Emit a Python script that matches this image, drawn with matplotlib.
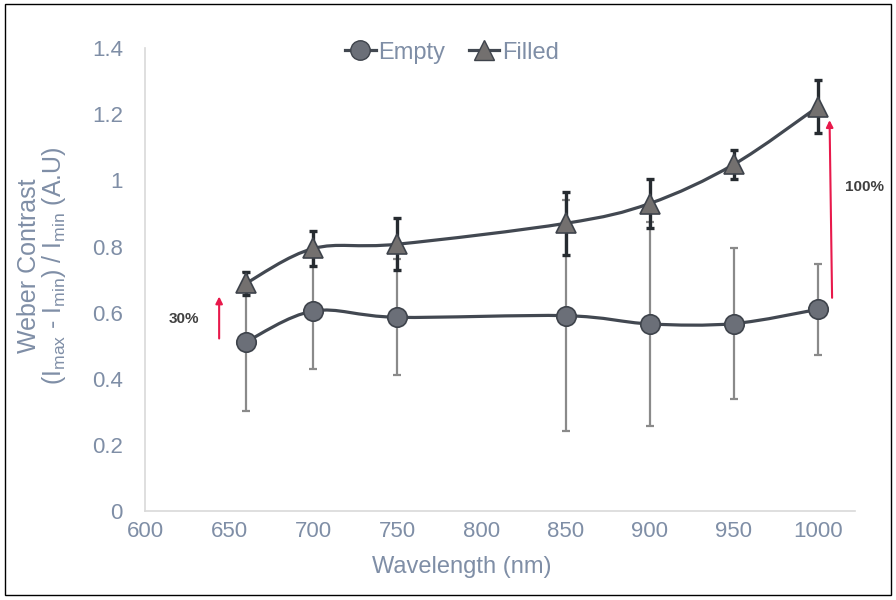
import numpy as np
import matplotlib
matplotlib.use('Agg')
import matplotlib.pyplot as plt
from matplotlib.path import Path
from matplotlib.patches import PathPatch, Rectangle
from matplotlib.lines import Line2D

plt.rcParams['font.family'] = ['Liberation Sans', 'DejaVu Sans']
plt.rcParams['mathtext.fontset'] = 'custom'
plt.rcParams['mathtext.rm'] = 'Liberation Sans'
plt.rcParams['mathtext.it'] = 'Liberation Sans:italic'

# values
wavelength = [660, 700, 750, 850, 900, 950, 1000]
empty = [0.512, 0.605, 0.586, 0.591, 0.566, 0.567, 0.610]
empty_err = [0.210, 0.174, 0.175, 0.349, 0.309, 0.228, 0.138]
filled = [0.689, 0.794, 0.807, 0.870, 0.930, 1.048, 1.222]
filled_err = [0.035, 0.053, 0.079, 0.095, 0.075, 0.044, 0.080]
x_ticks = [600, 650, 700, 750, 800, 850, 900, 950, 1000]
y_ticks = [0, 0.2, 0.4, 0.6, 0.8, 1.0, 1.2, 1.4]
y_tick_labels = ['0', '0.2', '0.4', '0.6', '0.8', '1', '1.2', '1.4']

TEXT = '#7f8ea6'
LINE = '#424851'
RED = '#e8194b'


def smooth_path(x, y):
    # excel style smoothed line (catmull-rom as bezier segments)
    n = len(x)
    verts = [(x[0], y[0])]
    codes = [Path.MOVETO]
    for i in range(n - 1):
        a = max(i - 1, 0)
        d = min(i + 2, n - 1)
        c1 = (x[i] + (x[i + 1] - x[a]) / 6.0, y[i] + (y[i + 1] - y[a]) / 6.0)
        c2 = (x[i + 1] - (x[d] - x[i]) / 6.0, y[i + 1] - (y[d] - y[i]) / 6.0)
        verts += [c1, c2, (x[i + 1], y[i + 1])]
        codes += [Path.CURVE4] * 3
    return Path(verts, codes)


fig = plt.figure(figsize=(8.96, 6), dpi=100)
ax = fig.add_axes([0.162, 0.148, 0.792, 0.772])

ax.errorbar(wavelength, empty, yerr=empty_err, fmt='none', ecolor='#8a8a8a',
            elinewidth=1.6, capsize=3, capthick=1.6, zorder=2)
ax.errorbar(wavelength, filled, yerr=filled_err, fmt='none', ecolor='#262b30',
            elinewidth=2.4, capsize=3, capthick=2.4, zorder=3)

for ys in (empty, filled):
    ax.add_patch(PathPatch(smooth_path(wavelength, ys), fill=False,
                           ec=LINE, lw=2.3, zorder=4))

ax.plot(wavelength, empty, 'o', ms=14, mfc='#6b6f78', mec='#3e434b',
        mew=1.2, zorder=5)
ax.plot(wavelength, filled, '^', ms=14, mfc='#73706f', mec='#3e434b',
        mew=1.2, zorder=5)

# percentage arrows
ax.annotate('', xy=(644, filled[0] - 0.04), xytext=(644, empty[0] + 0.01),
            arrowprops=dict(arrowstyle='-|>', color=RED, lw=1.5,
                            mutation_scale=10, shrinkA=0, shrinkB=0))
ax.text(623, 0.58, '30%', fontsize=11, fontweight='bold', color='#404040',
        ha='center', va='center')
ax.annotate('', xy=(1007, filled[-1] - 0.04), xytext=(1008.5, empty[-1] + 0.035),
            arrowprops=dict(arrowstyle='-|>', color=RED, lw=1.5,
                            mutation_scale=10, shrinkA=0, shrinkB=0),
            annotation_clip=False)
ax.text(1028, 0.98, '100%', fontsize=11, fontweight='bold', color='#404040',
        ha='center', va='center', clip_on=False)

ax.set_xlim(600, 1022)
ax.set_ylim(0, 1.4)
ax.set_xticks(x_ticks)
ax.set_yticks(y_ticks)
ax.set_yticklabels(y_tick_labels)
ax.tick_params(length=0, labelsize=16, labelcolor=TEXT)
ax.tick_params(axis='y', pad=16)
ax.tick_params(axis='x', pad=7)
for s in ('top', 'right'):
    ax.spines[s].set_visible(False)
for s in ('left', 'bottom'):
    ax.spines[s].set_color('#d9d9d9')
    ax.spines[s].set_linewidth(1.2)

ax.set_xlabel('Wavelength (nm)', fontsize=17, color=TEXT)
ax.xaxis.set_label_coords(0.446, -0.121)
ax.xaxis.label.set_va('center')
ax.set_ylabel('Weber Contrast\n(I$_{\\mathrm{max}}$ - I$_{\\mathrm{min}}$) / I$_{\\mathrm{min}}$ (A.U)',
              fontsize=18, color=TEXT, linespacing=0.95)
ax.yaxis.label.set_va('center')
ax.yaxis.set_label_coords(-0.145, 0.53)

handles = [Line2D([], [], color=LINE, lw=2.3, marker='o', ms=14,
                  mfc='#6b6f78', mec='#3e434b'),
           Line2D([], [], color=LINE, lw=2.3, marker='^', ms=14,
                  mfc='#73706f', mec='#3e434b')]
leg = ax.legend(handles, ['Empty', 'Filled'], loc='center',
                bbox_to_anchor=(0.432, 0.99), ncol=2, frameon=False,
                fontsize=17, handlelength=1.3, handletextpad=0.1,
                columnspacing=1.0, labelcolor=TEXT)

fig.add_artist(Rectangle((0.006, 0.008), 0.988, 0.986, transform=fig.transFigure,
                         fill=False, ec='black', lw=1))

fig.savefig('out.png', dpi=100)
